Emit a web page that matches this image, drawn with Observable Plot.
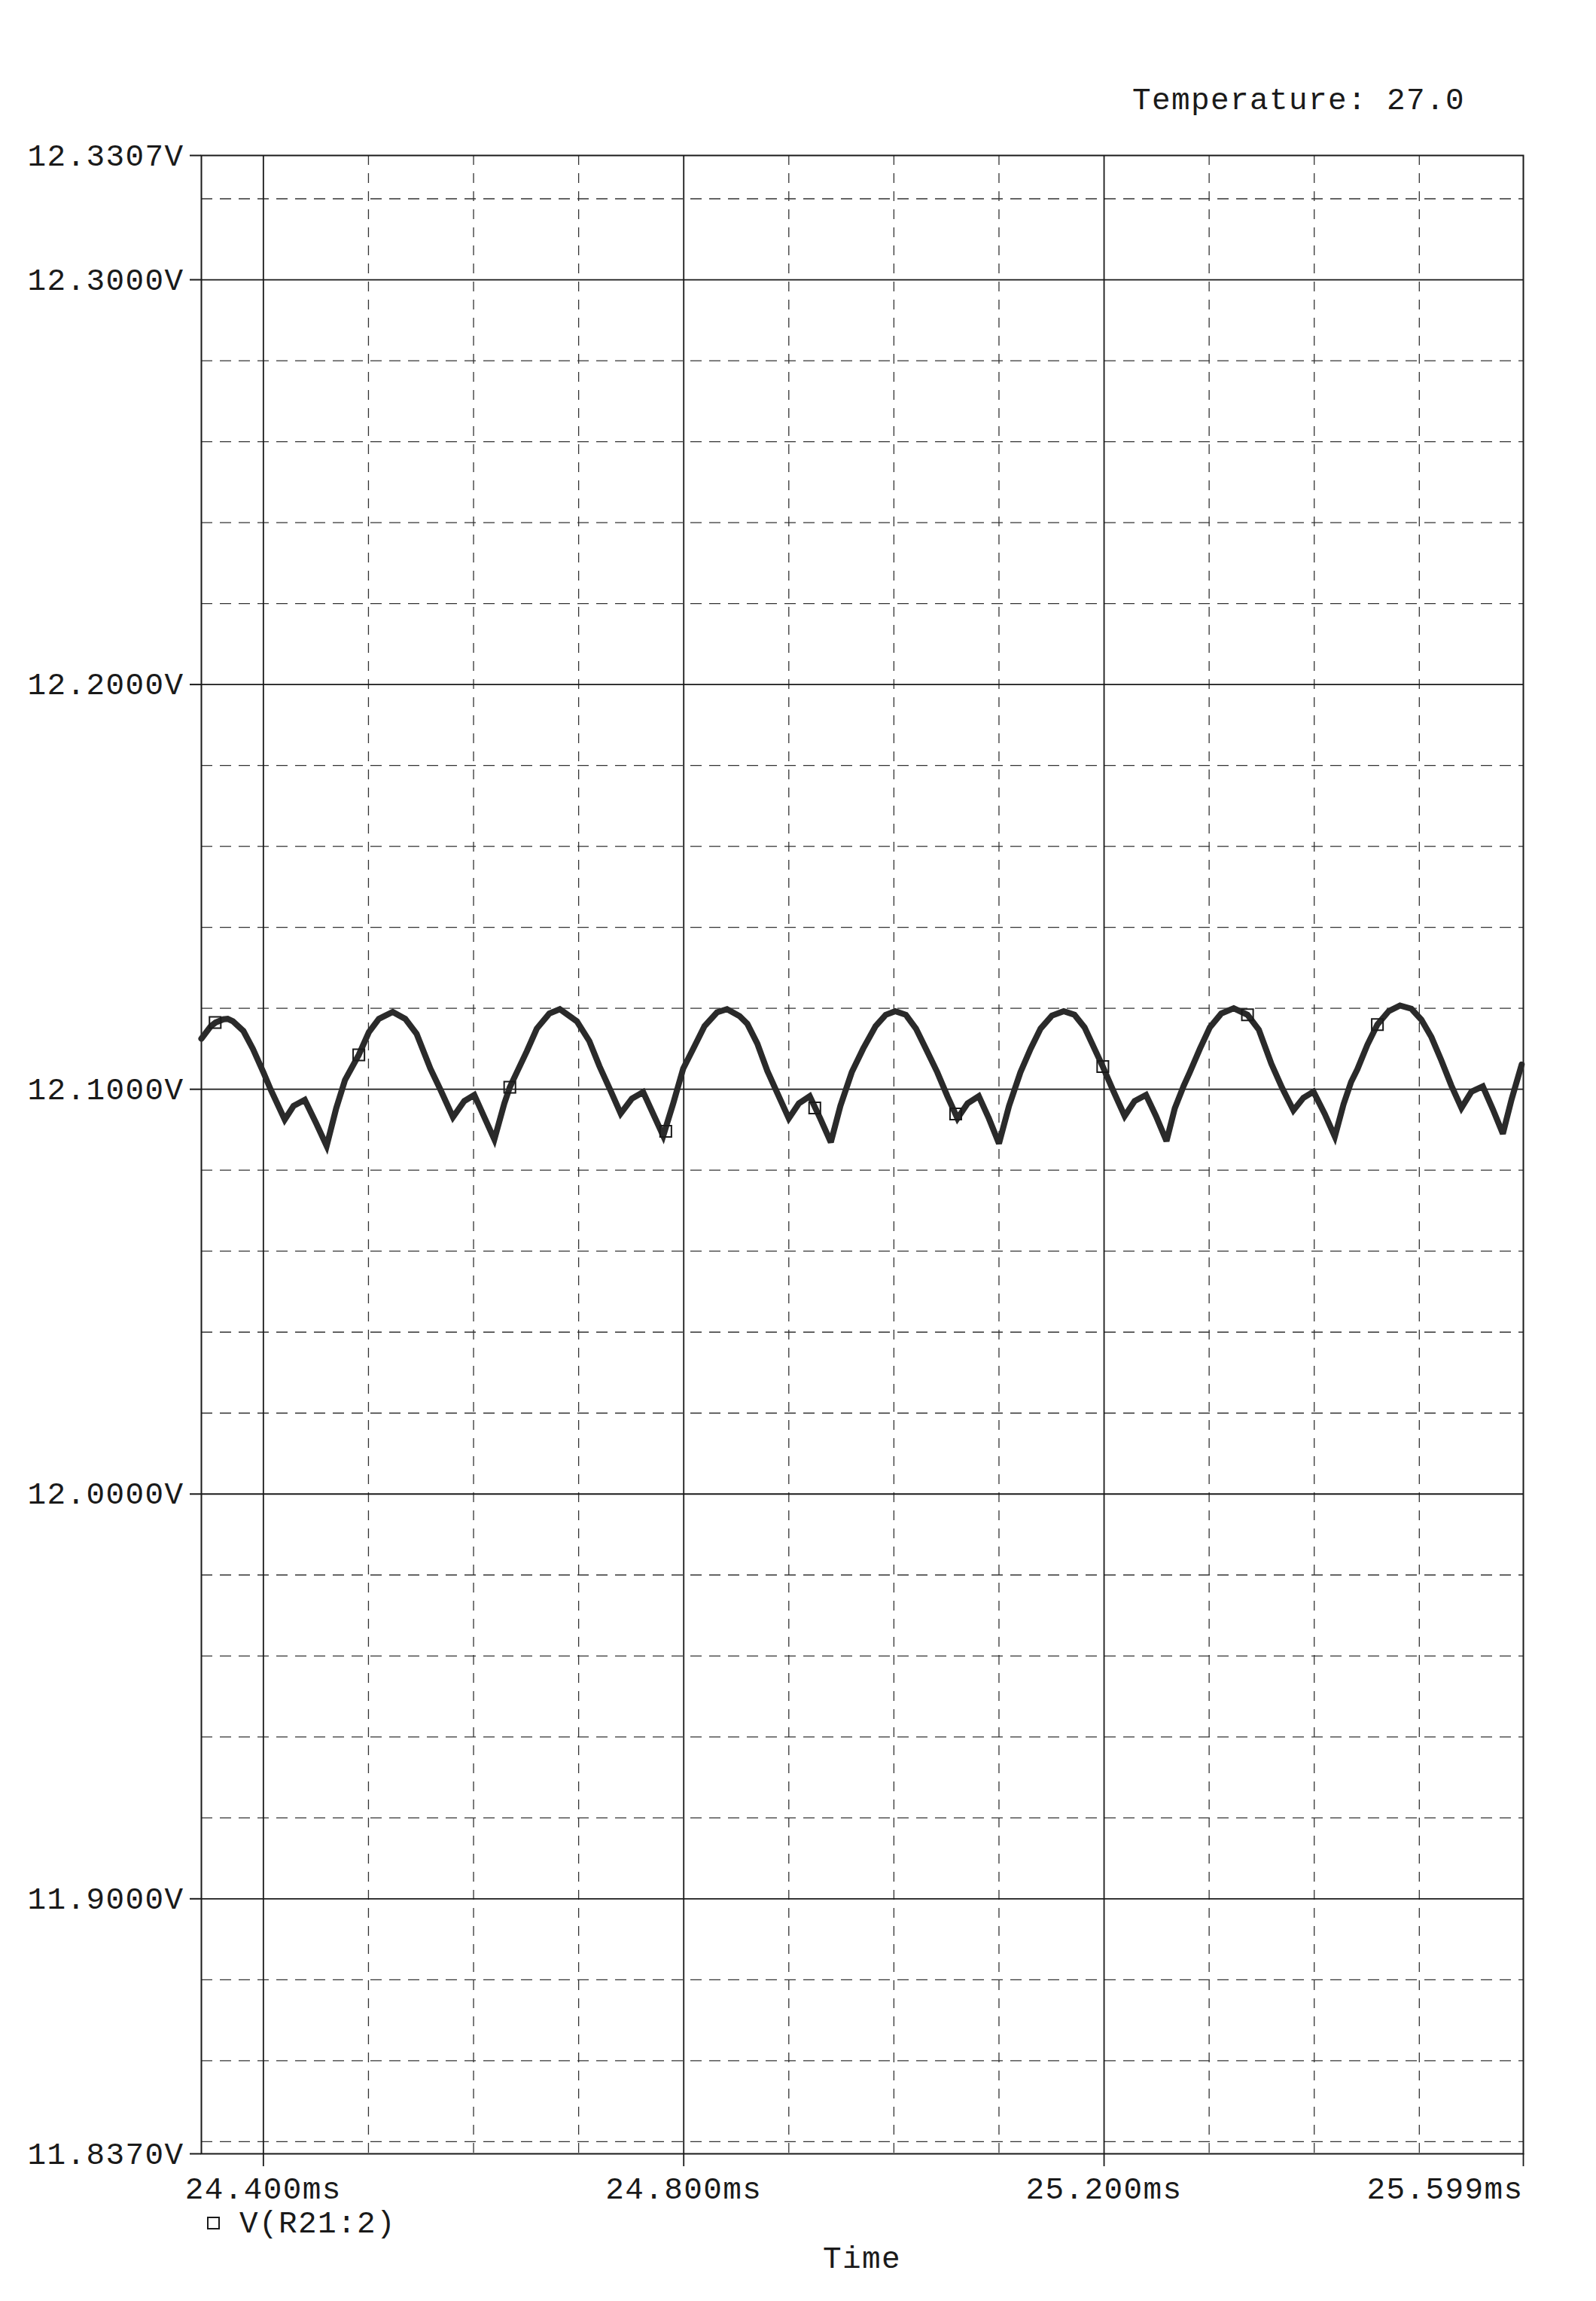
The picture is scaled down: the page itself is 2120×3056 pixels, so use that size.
<!DOCTYPE html>
<html><head><meta charset="utf-8">
<script src="https://cdn.jsdelivr.net/npm/d3@7"></script>
<script src="https://cdn.jsdelivr.net/npm/@observablehq/plot@0.6"></script>
<style>
html,body{margin:0;padding:0;background:#fff;}
body{width:2120px;height:3056px;overflow:hidden;font-family:"Liberation Mono",monospace;color:#1a1a1a;}
.t{position:absolute;font-size:41px;line-height:41px;letter-spacing:1.4px;white-space:pre;}
#head{position:relative;height:180px;}
#foot{position:relative;height:76px;}
#chart svg text{letter-spacing:1.4px;}
</style></head><body>
<div id="head"><div class="t" style="left:1504px;top:114px">Temperature: 27.0</div></div>
<div id="chart"></div>
<div id="foot">
  <div style="position:absolute;left:275px;top:-36px;width:13px;height:13px;border:2px solid #1a1a1a"></div>
  <div class="t" id="legendText" style="left:318px;top:-46px"></div>
  <div class="t" id="xLabel" style="left:267px;width:1756px;text-align:center;top:1px"></div>
</div>
<script>
// ---- data ----
const timeMs = [
24.341,24.350,24.3545,24.362,24.366,24.371,24.381,24.390,24.400,24.407,
24.4203,24.4287,24.4394,24.4502,24.4602,24.4693,24.4777,24.4908,24.5004,24.5099,
24.5231,24.535,24.5458,24.5589,24.5685,24.5804,24.5912,24.6007,24.6198,24.6293,
24.6345,24.6412,24.6507,24.6602,24.6721,24.6821,24.6983,24.7102,24.7198,24.7305,
24.7400,24.7507,24.7614,24.7805,24.7900,24.7995,24.8090,24.8198,24.8317,24.8412,
24.8531,24.8605,24.8700,24.8796,24.8892,24.9000,24.9096,24.9199,24.9299,24.9400,
24.9491,24.9599,24.9707,24.9826,24.9922,25.0013,25.0114,25.0210,25.0305,25.0413,
25.0509,25.0605,25.0701,25.0808,25.0904,25.1000,25.1096,25.1204,25.1301,25.1396,
25.1504,25.1616,25.1718,25.1814,25.1909,25.1988,25.2088,25.2196,25.2291,25.2399,
25.2494,25.2594,25.2673,25.2757,25.2816,25.2912,25.3007,25.3115,25.3234,25.3365,
25.3473,25.3592,25.3695,25.3802,25.3897,25.3993,25.4100,25.4196,25.4279,25.4351,
25.4410,25.4506,25.4601,25.4709,25.4816,25.4924,25.5019,25.5115,25.5210,25.5305,
25.5401,25.5496,25.5604,25.5699,25.5795,25.5878,25.5974];
const voltage = [
12.1125,12.1156,12.1165,12.1173,12.1174,12.1168,12.1144,12.1100,12.1042,12.0999,
12.0925,12.0959,12.0974,12.0916,12.0860,12.0953,12.1023,12.1085,12.1141,12.1174,
12.1191,12.1174,12.1137,12.1051,12.0999,12.0931,12.0971,12.0986,12.0876,12.0965,
12.1005,12.1042,12.1094,12.1150,12.1187,12.1198,12.1168,12.1119,12.1057,12.0996,
12.0940,12.0977,12.0993,12.0885,12.0965,12.1051,12.1100,12.1156,12.1190,12.1198,
12.1181,12.1162,12.1113,12.1045,12.0990,12.0928,12.0965,12.0983,12.0928,12.0869,
12.0959,12.1042,12.1100,12.1156,12.1184,12.1193,12.1184,12.1150,12.1100,12.1042,
12.0983,12.0928,12.0965,12.0983,12.0928,12.0866,12.0959,12.1042,12.1100,12.1150,
12.1182,12.1193,12.1184,12.1153,12.1100,12.1056,12.0996,12.0934,12.0971,12.0986,
12.0934,12.0872,12.0953,12.1008,12.1042,12.1100,12.1153,12.1187,12.1200,12.1184,
12.1147,12.1063,12.1003,12.0948,12.0979,12.0994,12.0939,12.0883,12.0963,12.1018,
12.1049,12.1110,12.1160,12.1193,12.1207,12.1199,12.1172,12.1129,12.1071,12.1009,
12.0954,12.0994,12.1007,12.0951,12.0890,12.0975,12.1061];
const markerTimeMs = [24.3541,24.4908,24.6345,24.7829,24.9247,25.0588,25.1988,25.3365,25.4601];
const markerVoltage = [12.1165,12.1085,12.1005,12.0896,12.0954,12.0939,12.1056,12.1184,12.1160];

const yTicks = [12.3307, 12.3, 12.2, 12.1, 12.0, 11.9, 11.837];
const yTickLabels = ["12.3307V","12.3000V","12.2000V","12.1000V","12.0000V","11.9000V","11.8370V"];
const xTicks = [24.4, 24.8, 25.2, 25.599];
const xTickLabels = ["24.400ms","24.800ms","25.200ms","25.599ms"];
const yMajorGrid = [12.3, 12.2, 12.1, 12.0, 11.9];
const yMinorGrid = [12.32,12.28,12.26,12.24,12.22,12.18,12.16,12.14,12.12,12.08,12.06,12.04,12.02,11.98,11.96,11.94,11.92,11.88,11.86,11.84];
const xMajorGrid = [24.4, 24.8, 25.2];
const xMinorGrid = [24.5,24.6,24.7,24.9,25.0,25.1,25.3,25.4,25.5];
const xDomain = [24.341, 25.599];
const yDomain = [11.837, 12.3307];
const seriesName = "V(R21:2)";
const xTitle = "Time";

document.getElementById("legendText").textContent = seriesName;
document.getElementById("xLabel").textContent = xTitle;

const trace = timeMs.map((t, i) => ({t, v: voltage[i]}));
const markers = markerTimeMs.map((t, i) => ({t, v: markerVoltage[i]}));
const yFmt = d => yTickLabels[yTicks.indexOf(d)];
const xFmt = d => xTickLabels[xTicks.indexOf(d)];

const ink = "#1a1a1a";
const chart = Plot.plot({
  width: 2120,
  height: 2800,
  marginLeft: 267,
  marginRight: 97,
  marginTop: 26,
  marginBottom: 120,
  style: {fontFamily: "Liberation Mono, monospace", fontSize: "41px", background: "#fff", color: ink},
  x: {domain: xDomain},
  y: {domain: yDomain},
  marks: [
    Plot.ruleY(yMinorGrid, {stroke: "#333", strokeWidth: 1.3, strokeDasharray: "15,10"}),
    Plot.ruleX(xMinorGrid, {stroke: "#333", strokeWidth: 1.3, strokeDasharray: "13,11"}),
    Plot.ruleY(yMajorGrid, {stroke: ink, strokeWidth: 1.8}),
    Plot.ruleX(xMajorGrid, {stroke: ink, strokeWidth: 1.8}),
    Plot.frame({stroke: ink, strokeWidth: 2}),
    Plot.axisY(yTicks, {tickFormat: yFmt, tickSize: 15, tickPadding: 8, stroke: ink, strokeWidth: 2, label: null}),
    Plot.axisX(xTicks.slice(0, 3), {tickFormat: xFmt, tickSize: 17, tickPadding: 13, stroke: ink, strokeWidth: 1.8, label: null}),
    Plot.axisX(xTicks.slice(3), {tickFormat: xFmt, tickSize: 17, tickPadding: 13, stroke: ink, strokeWidth: 1.8, textAnchor: "end", label: null}),
    Plot.line(trace, {x: "t", y: "v", stroke: "#2a2a2a", strokeWidth: 8, strokeLinejoin: "miter", strokeMiterlimit: 3}),
    Plot.dot(markers, {x: "t", y: "v", symbol: "square", r: 8.5, stroke: ink, strokeWidth: 2, fill: "none"})
  ]
});
document.getElementById("chart").appendChild(chart);
</script>
</body></html>
